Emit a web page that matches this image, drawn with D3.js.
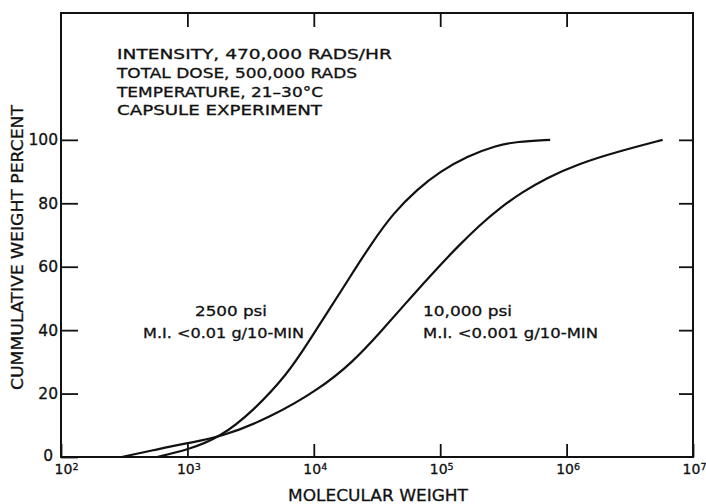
<!DOCTYPE html>
<html>
<head>
<meta charset="utf-8">
<script src="https://cdn.jsdelivr.net/npm/d3@7"></script>
<style>
  html, body { margin: 0; padding: 0; background: #fff; }
  svg { display: block; }
  text { font-family: "DejaVu Sans", sans-serif; fill: #111; stroke: #111; stroke-width: 0.3px; }
</style>
</head>
<body>
<svg id="chart" width="706" height="504"></svg>
<script>
// ---- data ----
const xTickValues = [1e2, 1e3, 1e4, 1e5, 1e6, 1e7];
const xTickExponents = ["2", "3", "4", "5", "6", "7"];
const yTickValues = [0, 20, 40, 60, 80, 100];

// 2500 psi series: molecular weight, cumulative weight percent
const mw2500 = [575, 1000, 1820, 3310, 6170, 9330, 13500, 19500, 28200, 42700, 66100, 100000, 162000, 282000, 398000, 741000];
const pct2500 = [0, 2.2, 6.2, 14.5, 26, 37, 47, 57, 67, 77, 84.5, 90, 94.8, 98.3, 99.4, 100];

// 10,000 psi series
const mw10000 = [302, 562, 1000, 1820, 4470, 11200, 20400, 33100, 57500, 100000, 135000, 204000, 295000, 447000, 692000, 1260000, 2340000, 5750000];
const pct10000 = [0, 2.3, 4.4, 6.2, 12.3, 21.5, 30, 39, 50, 60.5, 66, 73, 78.5, 83.5, 88, 92.5, 95.9, 100];

const noteLines = ["INTENSITY, 470,000 RADS/HR", "TOTAL DOSE, 500,000 RADS", "TEMPERATURE, 21\u201330\u00B0C", "CAPSULE EXPERIMENT"];
const label2500 = ["2500 psi", "M.I. <0.01 g/10-MIN"];
const label10000 = ["10,000 psi", "M.I. <0.001 g/10-MIN"];
const xTitle = "MOLECULAR WEIGHT";
const yTitle = "CUMMULATIVE WEIGHT PERCENT";

// ---- layout ----
const L = 61, R = 693, T = 13, B = 457;
const svg = d3.select("#chart");
const x = d3.scaleLog().domain([1e2, 1e7]).range([L, R]);
const y = d3.scaleLinear().domain([0, 140]).range([B, T]);

// frame
svg.append("rect").attr("x", L).attr("y", T).attr("width", R - L).attr("height", B - T)
  .attr("fill", "none").attr("stroke", "#111").attr("stroke-width", 2);

function styleAxis(g) {
  g.select(".domain").remove();
  g.selectAll(".tick line").attr("stroke", "#111").attr("stroke-width", 1.8);
}

// left axis (ticks inward, labels outside)
const gl = svg.append("g").attr("transform", `translate(${L},0)`)
  .call(d3.axisLeft(y).tickValues(yTickValues).tickSizeInner(-17).tickSizeOuter(0).tickPadding(3).tickFormat(d3.format("d")));
styleAxis(gl);
gl.selectAll(".tick text").attr("font-size", 15.5).attr("fill", "#111").attr("font-family", "DejaVu Sans");
gl.selectAll(".tick").filter(d => d === 0).select("text").attr("dy", "0.2em").attr("dx", "-5");

// right axis (ticks inward, no labels)
const gr = svg.append("g").attr("transform", `translate(${R},0)`)
  .call(d3.axisLeft(y).tickValues(yTickValues.filter(v => v > 0)).tickSizeInner(14).tickSizeOuter(0).tickFormat(""));
styleAxis(gr);

// top axis
const gt = svg.append("g").attr("transform", `translate(0,${T})`)
  .call(d3.axisTop(x).tickValues(xTickValues.slice(1, -1)).tickSizeInner(-14).tickSizeOuter(0).tickFormat(""));
styleAxis(gt);

// bottom axis
const gb = svg.append("g").attr("transform", `translate(0,${B})`)
  .call(d3.axisBottom(x).tickValues(xTickValues).tickSizeInner(-13).tickSizeOuter(0).tickPadding(7).tickFormat(""));
styleAxis(gb);
gb.selectAll(".tick").each(function(d, i) {
  const t = d3.select(this).select("text");
  t.attr("font-size", 14).attr("fill", "#111").attr("dy", "0.71em").attr("dx", i === 0 ? "5" : "1");
  t.text(null);
  t.append("tspan").text("10");
  t.append("tspan").attr("font-size", 9.5).attr("dy", "-0.4em").text(xTickExponents[i]);
});

// curves
const line = d3.line().x(d => x(d[0])).y(d => y(d[1])).curve(d3.curveBasis);
svg.append("path").datum(d3.zip(mw2500, pct2500)).attr("d", line)
  .attr("fill", "none").attr("stroke", "#111").attr("stroke-width", 2.2);
svg.append("path").datum(d3.zip(mw10000, pct10000)).attr("d", line)
  .attr("fill", "none").attr("stroke", "#111").attr("stroke-width", 2.2);

// notes
const noteW = [275, 240, 206, 205];
const noteY = [59, 78, 97, 115];
noteLines.forEach((s, i) => {
  svg.append("text").attr("x", 117).attr("y", noteY[i]).attr("font-size", 13.5)
    .attr("textLength", noteW[i]).attr("lengthAdjust", "spacingAndGlyphs").text(s);
});

// series labels
function addLabel(lines, xs, ys, ws) {
  lines.forEach((s, i) => {
    svg.append("text").attr("x", xs[i]).attr("y", ys[i]).attr("font-size", 14.5)
      .attr("textLength", ws[i]).attr("lengthAdjust", "spacingAndGlyphs").text(s);
  });
}
addLabel(label2500, [195, 143], [316, 338], [72, 161]);
addLabel(label10000, [423, 423], [316, 338], [89, 175]);

// axis titles
svg.append("text").attr("x", 288).attr("y", 501).attr("font-size", 16.5)
  .attr("textLength", 180).attr("lengthAdjust", "spacingAndGlyphs").text(xTitle);
svg.append("text").attr("transform", "translate(23,247.5) rotate(-90)")
  .attr("text-anchor", "middle").attr("font-size", 15)
  .attr("textLength", 285).attr("lengthAdjust", "spacingAndGlyphs").text(yTitle);
</script>
</body>
</html>
